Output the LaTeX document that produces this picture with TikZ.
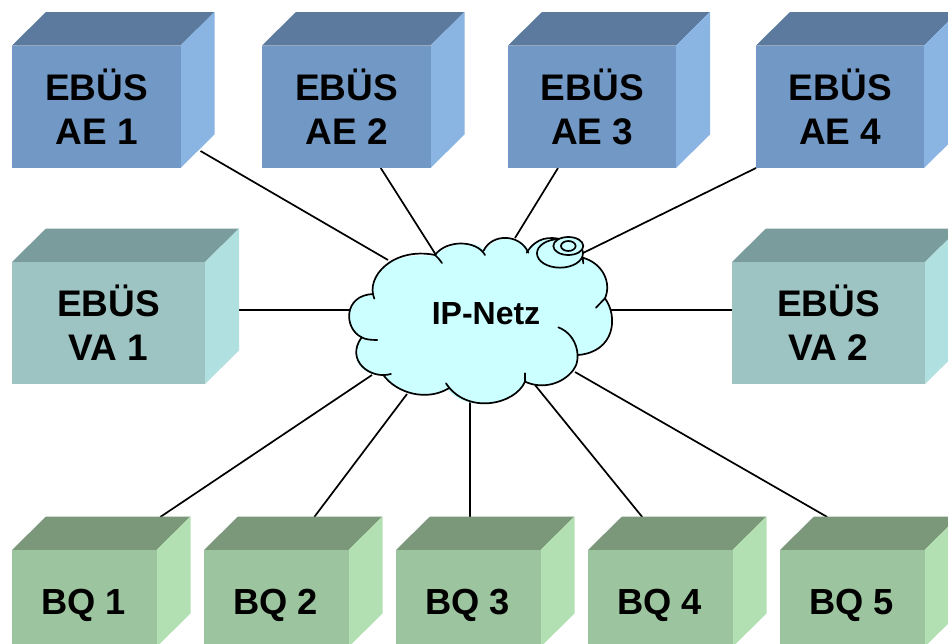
\documentclass[tikz,border=0pt]{standalone}
\usepackage{fontspec}
\setmainfont{Liberation Sans}
\usetikzlibrary{calc}
\pgfdeclarelayer{behind}
\pgfsetlayers{behind,main}
\definecolor{aeF}{HTML}{7299C6}\definecolor{aeT}{HTML}{5C7A9E}\definecolor{aeS}{HTML}{8AB4E2}
\definecolor{vaF}{HTML}{9DC3C3}\definecolor{vaT}{HTML}{7A9C9C}\definecolor{vaS}{HTML}{B0E0E0}
\definecolor{bqF}{HTML}{9CC49E}\definecolor{bqT}{HTML}{7B987B}\definecolor{bqS}{HTML}{B2E0B2}
\definecolor{cloudC}{HTML}{CCFFFF}
\tikzset{
  x=1pt,y=-1pt,
  front/.style={rectangle,anchor=north west,inner sep=0pt,outer sep=0pt},
  cubetext/.style={inner sep=0pt,align=center,text=black,font=\fontsize{37}{44}\selectfont\bfseries},
  aeshift/.style={xshift=0.3pt},
  vashift/.style={xshift=0pt},
  bqshift/.style={xshift=-0.5pt,yshift=-6.5pt,font=\fontsize{36.3}{44}\selectfont\bfseries},
  link/.style={draw=black,line width=1.7pt},
  cloudline/.style={draw=black,line width=1.7pt,line cap=round}
}
% #1 name, #2 x, #3 y, #4 w, #5 h, #6 colour prefix, #7 text
\newcommand{\cubebox}[7]{%
  \fill[#6T] (#2,#3) -- ++(34,-33.5) -- ++(#4,0) -- ++(-34,33.5) -- cycle;
  \fill[#6S] (#2+#4,#3) -- ++(34,-33.5) -- ++(0,#5) -- ++(-34,33.5) -- cycle;
  \node[front,fill=#6F,minimum width=#4pt,minimum height=#5pt,
    label={[cubetext,#6shift]center:{#7}}] (#1) at (#2,#3) {};
}
\begin{document}
\begin{tikzpicture}
\useasboundingbox (0,0) rectangle (948,643);
\clip (0,0) rectangle (948,643);
% boxes
\cubebox{ae1}{12}{45.5}{168.5}{122.5}{ae}{EBÜS\\AE 1}
\cubebox{ae2}{262}{45.5}{168.5}{122.5}{ae}{EBÜS\\AE 2}
\cubebox{ae3}{508}{45.5}{168}{122.5}{ae}{EBÜS\\AE 3}
\cubebox{ae4}{756}{45.5}{168}{122.5}{ae}{EBÜS\\AE 4}
\cubebox{va1}{12}{262}{193}{122}{va}{EBÜS\\VA 1}
\cubebox{va2}{732}{262}{193}{122}{va}{EBÜS\\VA 2}
\cubebox{bq1}{12}{550}{144.5}{97}{bq}{BQ 1}
\cubebox{bq2}{204}{550}{144.5}{97}{bq}{BQ 2}
\cubebox{bq3}{396}{550}{144.5}{97}{bq}{BQ 3}
\cubebox{bq4}{588}{550}{144.5}{97}{bq}{BQ 4}
\cubebox{bq5}{780}{550}{144.5}{97}{bq}{BQ 5}
% cloud
\begin{scope}[shift={(340,220)},x=0.3333pt,y=-0.3333pt]
\fill[cloudC] (100,222) .. controls (92,150) and (160,95) .. (285,108)
  .. controls (320,70) and (400,55) .. (435,90)
  .. controls (460,50) and (540,40) .. (565,90)
  .. controls (600,45) and (680,40) .. (730,115)
  .. controls (790,130) and (815,190) .. (795,235)
  .. controls (830,290) and (820,390) .. (715,405)
  .. controls (710,470) and (630,515) .. (555,485)
  .. controls (530,550) and (380,585) .. (320,505)
  .. controls (260,540) and (170,520) .. (130,465)
  .. controls (70,470) and (20,420) .. (65,355)
  .. controls (10,330) and (10,225) .. (100,222) -- cycle;
\draw[cloudline] (103,236) .. controls (75,170) and (160,80) .. (285,105) .. controls (293,112) and (300,120) .. (306,129);
\draw[cloudline] (285,105) .. controls (320,58) and (410,60) .. (435,105);
\draw[cloudline] (431,92) .. controls (455,40) and (540,40) .. (565,98);
\draw[cloudline] (560,98) .. controls (590,50) and (630,50) .. (665,58);
\draw[cloudline] (730,130) -- (728,113) .. controls (790,130) and (815,190) .. (795,235) -- (768,263);
\draw[cloudline] (795,235) .. controls (835,290) and (825,395) .. (715,405);
\draw[cloudline] (655,322) .. controls (715,345) and (725,420) .. (700,450) .. controls (670,490) and (610,510) .. (555,485) -- (555,460);
\draw[cloudline] (555,485) .. controls (525,555) and (380,585) .. (318,490);
\draw[cloudline] (326,505) .. controls (260,545) and (170,520) .. (130,465);
\draw[cloudline] (153,462) .. controls (90,480) and (15,420) .. (65,352) .. controls (75,358) and (90,360) .. (112,360);
\draw[cloudline] (65,352) .. controls (10,325) and (10,225) .. (100,222);
\draw[cloudline,fill=cloudC] (660,100) ellipse [x radius=69,y radius=43];
\draw[cloudline,fill=cloudC] (685,78) ellipse [x radius=45,y radius=27];
\draw[cloudline,fill=cloudC] (685,78) ellipse [x radius=22,y radius=15];
\end{scope}
\node[inner sep=0pt,font=\fontsize{32}{36}\selectfont\bfseries] (cloud) at (486,314) {IP-Netz};
% connectors
\begin{pgfonlayer}{behind}
\draw[link] ([xshift=20pt,yshift=17pt]ae1.south east) -- ([xshift=-98pt,yshift=54pt]cloud.center);
\draw[link] ([xshift=34.5pt]ae2.south) -- ([xshift=-50pt,yshift=59pt]cloud.center);
\draw[link] ([xshift=-34pt]ae3.south) -- ([xshift=29pt,yshift=76pt]cloud.center);
\draw[link] (ae4.south west) -- ([xshift=97pt,yshift=61pt]cloud.center);
\draw[link] ([yshift=13pt]va1.center) -- ([yshift=4pt]cloud.center);
\draw[link] ([yshift=13pt]va2.center) -- ([yshift=4pt]cloud.center);
\draw[link] ([xshift=76pt,yshift=33pt]bq1.north) -- ([xshift=-114pt,yshift=-61pt]cloud.center);
\draw[link] ([xshift=38pt,yshift=33pt]bq2.north) -- ([xshift=-79pt,yshift=-80pt]cloud.center);
\draw[link] ([xshift=1.75pt,yshift=33pt]bq3.north) -- ([xshift=-16pt,yshift=-80pt]cloud.center);
\draw[link] ([xshift=-18pt,yshift=33pt]bq4.north) -- ([xshift=49pt,yshift=-71pt]cloud.center);
\draw[link] ([xshift=-25pt,yshift=33pt]bq5.north) -- ([xshift=89pt,yshift=-58pt]cloud.center);
\end{pgfonlayer}
\end{tikzpicture}
\end{document}
